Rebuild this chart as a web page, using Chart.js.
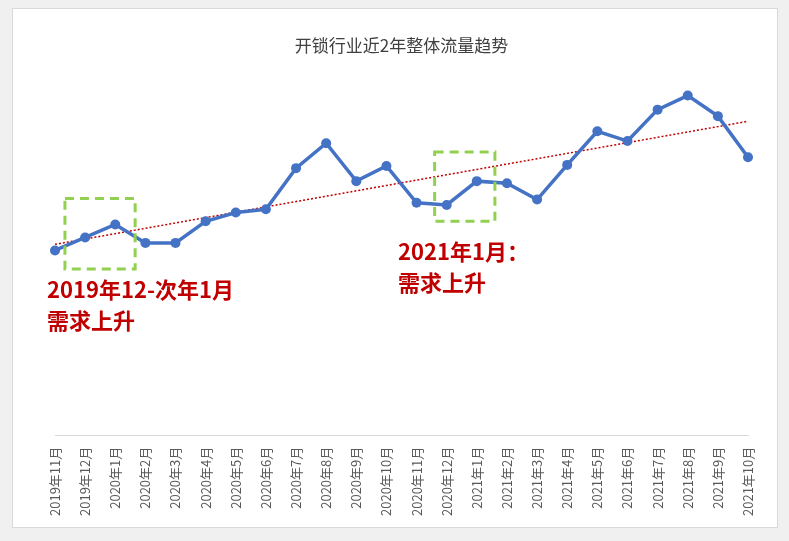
<!DOCTYPE html>
<html><head><meta charset="utf-8">
<script src="https://cdn.jsdelivr.net/npm/chart.js@4"></script>
<style>
body{margin:0;background:#f0f0f0;}
#wrap{position:absolute;left:12px;top:8px;width:764px;height:518px;background:#fff;border:1px solid #d9d9d9;}
</style></head><body>
<div id="wrap"><canvas id="c" width="764" height="518"></canvas></div>
<script>
const months = ["2019年11月","2019年12月","2020年1月","2020年2月","2020年3月","2020年4月","2020年5月","2020年6月","2020年7月","2020年8月","2020年9月","2020年10月","2020年11月","2020年12月","2021年1月","2021年2月","2021年3月","2021年4月","2021年5月","2021年6月","2021年7月","2021年8月","2021年9月","2021年10月"];
const traffic = [61,73,85,68,68,88,96,99,137,160,125,139,105,103,125,123,108,140,171,162,191,204,185,147];

// linear trend (least squares) of the traffic series
const n = traffic.length;
const mx = (n - 1) / 2, my = traffic.reduce((a, b) => a + b) / n;
let sxy = 0, sxx = 0;
traffic.forEach((v, i) => { sxy += (i - mx) * (v - my); sxx += (i - mx) * (i - mx); });
const slope = sxy / sxx;
const trend = traffic.map((v, i) => my + slope * (i - mx));

const boxes = [{from: 0.33, to: 2.66, hi: 109, lo: 44}, {from: 12.6, to: 14.6, hi: 152, lo: 88}];
const notes = [
  {lines: ["2019年12-次年1月", "需求上升"], x: 34, y: 281},
  {lines: ["2021年1月：", "需求上升"], x: 385, y: 243}
];

const annot = {
  id: "annot",
  afterDatasetsDraw(chart) {
    const {ctx, scales: {x, y}} = chart;
    ctx.save();
    ctx.strokeStyle = "#92d050";
    ctx.lineWidth = 3;
    ctx.setLineDash([9, 6]);
    const step = x.getPixelForValue(1) - x.getPixelForValue(0);
    boxes.forEach(b => {
      const x0 = x.getPixelForValue(0) + step * b.from;
      const x1 = x.getPixelForValue(0) + step * b.to;
      ctx.strokeRect(x0, y.getPixelForValue(b.hi), x1 - x0, y.getPixelForValue(b.lo) - y.getPixelForValue(b.hi));
    });
    ctx.setLineDash([]);
    ctx.fillStyle = "#c00000";
    ctx.font = "bold 22px 'Noto Sans CJK SC'";
    ctx.textBaseline = "middle";
    notes.forEach(t => t.lines.forEach((s, i) => ctx.fillText(s, t.x, t.y + i * 31)));
    ctx.restore();
  }
};

new Chart(document.getElementById("c"), {
  type: "line",
  data: {
    labels: months,
    datasets: [
      {data: traffic, borderColor: "#4472c4", backgroundColor: "#4472c4", borderWidth: 3.5, pointRadius: 5, pointBorderWidth: 0},
      {data: trend, borderColor: "#c00000", borderWidth: 1.5, borderDash: [2, 2], pointRadius: 0}
    ]
  },
  options: {
    responsive: false, animation: false,
    layout: {padding: {left: 42, right: 29, top: 0, bottom: 8}},
    plugins: {
      legend: {display: false}, tooltip: {enabled: false},
      title: {display: true, text: "开锁行业近2年整体流量趋势", color: "#404040", font: {size: 17, family: "'Noto Sans CJK SC'", weight: "normal"}, padding: {top: 26, bottom: 12}}
    },
    scales: {
      y: {display: false, min: -110, max: 230},
      x: {
        grid: {display: false}, border: {color: "#d9d9d9"},
        ticks: {autoSkip: false, color: "#595959", minRotation: 90, maxRotation: 90, font: {size: 13, family: "'Noto Sans CJK SC'"}}
      }
    }
  },
  plugins: [annot]
});
</script>
</body></html>
